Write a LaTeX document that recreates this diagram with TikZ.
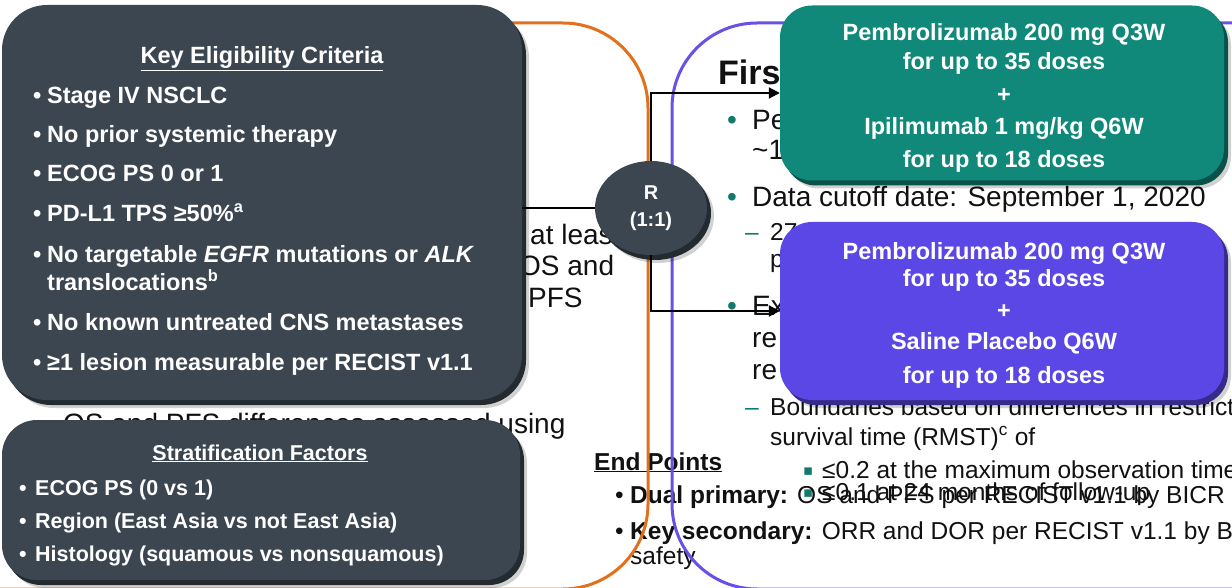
\documentclass[tikz,border=0pt]{standalone}
\usepackage{fontspec}
\setmainfont{Liberation Sans}
\newfontfamily\dejavu{DejaVu Sans}
\usetikzlibrary{arrows.meta,shapes.geometric,shadows}
\definecolor{slate}{HTML}{3B4650}
\definecolor{tealbox}{HTML}{10897A}
\definecolor{purpbox}{HTML}{5B47E5}
\definecolor{orangeln}{HTML}{E2711D}
\definecolor{purpln}{HTML}{6A50E6}
\definecolor{tealb}{HTML}{127A6A}
\definecolor{ink}{HTML}{111111}
\newcommand{\sqbul}{\raisebox{2.5pt}{\dejavu\fontsize{15}{15}\selectfont\textcolor{tealb}{▪}}}
\begin{document}
\begin{tikzpicture}[x=1pt,y=-1pt,
  rimbox/.style 2 args={fill=#1, rounded corners=#2, inner sep=0pt, draw=none,
    drop shadow={shadow xshift=7pt,shadow yshift=-8pt,fill=black,opacity=0.18},
    drop shadow={shadow xshift=4pt,shadow yshift=-5pt,fill=#1!60!black,opacity=1}},
  whitetxt/.style={text=white, inner sep=0pt, font=\bfseries\fontsize{23.5}{28}\selectfont, anchor=base west},
  strattxt/.style={text=white, inner sep=0pt, font=\bfseries\fontsize{21.5}{26}\selectfont, anchor=base west},
  bgbig/.style={text=ink, inner sep=0pt, font=\fontsize{28}{32}\selectfont, anchor=base west},
  bgsmall/.style={text=ink, inner sep=0pt, font=\fontsize{24.5}{28}\selectfont, anchor=base west},
  armtxt/.style={text=white, align=center, inner sep=0pt, font=\bfseries\fontsize{23.5}{29}\selectfont},
  outline/.style={line width=3pt, rounded corners=85pt},
  conn/.style={line width=2pt, draw=black},
  tip/.style={-{Triangle[length=11pt,width=11pt]}}
]
\useasboundingbox (0,0) rectangle (1232,588);
\clip (0,0) rectangle (1232,588);
\fill[white] (0,0) rectangle (1232,588);

% ---------- background slide text ----------
\node[bgbig] (l1) at (530,244) {at least};
\node[bgbig] (l2) at (519,276) {OS and};
\node[bgbig] (l3) at (528,308) {PFS};
\node[bgbig] (l4) at (34,433) {\makebox[29pt][l]{\textcolor{tealb}{•}}OS and PFS differences assessed using};

\node[text=ink, inner sep=0pt, anchor=base west, font=\bfseries\fontsize{34}{38}\selectfont] (first) at (718,85) {Firs};
\node[bgbig] (r1) at (727,130) {\makebox[25pt][l]{\textcolor{tealb}{•}}Pe};
\node[bgbig] (r2) at (752,160) {\textasciitilde 1};
\node[bgbig] (r3) at (727,207) {\makebox[25pt][l]{\textcolor{tealb}{•}}Data cutoff date: September 1, 2020};
\node[bgsmall] (r4) at (745,241) {\makebox[25pt][l]{\textcolor{tealb}{–}}27};
\node[bgsmall] (r5) at (770,268) {p};
\node[bgbig] (r6) at (727,315) {\makebox[25pt][l]{\textcolor{tealb}{•}}Ex};
\node[bgbig] (r7) at (752,347) {re};
\node[bgbig] (r8) at (752,379) {re};
\node[bgsmall] (r9) at (745,415) {\makebox[25pt][l]{\textcolor{tealb}{–}}Boundaries based on differences in restrict};
\node[bgsmall] (r10) at (770,445) {survival time (RMST)\textsuperscript{c} of};
\node[bgsmall] (r11) at (803,478) {\makebox[19pt][l]{\sqbul}≤0.2 at the maximum observation time};
\node[bgsmall] (r12) at (803,500) {\makebox[19pt][l]{\sqbul}≤0.1 at 24 months of follow-up};

\node[bgsmall, font=\bfseries\fontsize{24.5}{28}\selectfont] (ep) at (594,470) {\underline{End Points}};
\node[bgsmall] (ep1) at (615,503) {\makebox[15pt][l]{•}\textbf{Dual primary:} OS and PFS per RECIST v1.1 by BICR};
\node[bgsmall] (ep2) at (615,539) {\makebox[15pt][l]{•}\textbf{Key secondary:} ORR and DOR per RECIST v1.1 by B};
\node[bgsmall] (ep3) at (630,564) {safety};

% ---------- section outlines ----------
\draw[outline, draw=orangeln] (300,23) -- (648,23) -- (648,589) -- (-40,589);
\draw[outline, draw=purpln] (1260,23) -- (672,23) -- (672,589) -- (1260,589);

% ---------- boxes ----------
\node[rimbox={slate}{45pt}, minimum width=520pt, minimum height=395pt] (elig) at (262,202.5) {};
\node[whitetxt, anchor=base] (eligt) at (262,64) {\underline{Key Eligibility Criteria}};
\node[whitetxt] (e1) at (33,103.5) {\makebox[14pt][l]{•}Stage IV NSCLC};
\node[whitetxt] (e2) at (33,142.5) {\makebox[14pt][l]{•}No prior systemic therapy};
\node[whitetxt] (e3) at (33,181.5) {\makebox[14pt][l]{•}ECOG PS 0 or 1};
\node[whitetxt] (e4) at (33,221.5) {\makebox[14pt][l]{•}PD-L1 TPS ≥50\%\textsuperscript{a}};
\node[whitetxt] (e5) at (33,262.5) {\makebox[14pt][l]{•}No targetable \textit{EGFR} mutations or \textit{ALK}};
\node[whitetxt] (e6) at (47,290.5) {translocations\textsuperscript{b}};
\node[whitetxt] (e7) at (33,330.5) {\makebox[14pt][l]{•}No known untreated CNS metastases};
\node[whitetxt] (e8) at (33,370.5) {\makebox[14pt][l]{•}≥1 lesion measurable per RECIST v1.1};

\node[rimbox={slate}{35pt}, minimum width=518pt, minimum height=160pt] (strat) at (261,500) {};
\node[strattxt, anchor=base] (stratt) at (260,460) {\underline{Stratification Factors}};
\node[strattxt] (s1) at (19,495) {\makebox[16pt][l]{•}ECOG PS (0 vs 1)};
\node[strattxt] (s2) at (19,528) {\makebox[16pt][l]{•}Region (East Asia vs not East Asia)};
\node[strattxt] (s3) at (19,561) {\makebox[16pt][l]{•}Histology (squamous vs nonsquamous)};

\node[rimbox={slate}{0pt}, ellipse, minimum width=112pt, minimum height=94pt,
      text=white, align=center, font=\bfseries\fontsize{20}{27}\selectfont] (R) at (651,208) {R\\(1:1)};

\node[rimbox={tealbox}{32pt}, minimum width=444pt, minimum height=175pt] (armA) at (1002,93) {};
\node[armtxt] (armAt) at (1004,98)
  {Pembrolizumab 200 mg Q3W\\for up to 35 doses\\[4pt]+\\[3pt]Ipilimumab 1 mg/kg Q6W\\[4pt]for up to 18 doses};
\node[rimbox={purpbox}{32pt}, minimum width=444pt, minimum height=178pt] (armB) at (1002,311) {};
\node[armtxt] (armBt) at (1004,315)
  {Pembrolizumab 200 mg Q3W\\[-2pt]for up to 35 doses\\[3pt]+\\[2pt]Saline Placebo Q6W\\[5pt]for up to 18 doses};

% ---------- connectors ----------
\draw[conn] (R.west -| elig.east) -- (R.west);
\draw[conn, tip] (R.north) |- (armA.west);
\draw[conn, tip] (R.south) |- (armB.west);
\end{tikzpicture}
\end{document}
